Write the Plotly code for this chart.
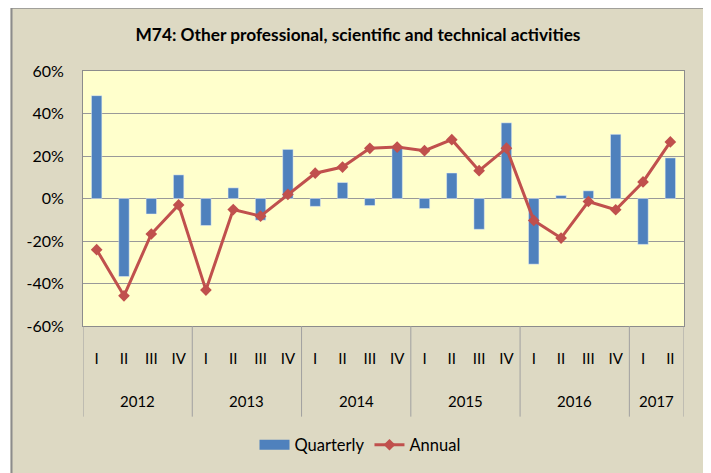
import plotly.graph_objects as go

# ---- data ----
years = ["2012", "2013", "2014", "2015", "2016", "2017"]
quarters_per_year = [4, 4, 4, 4, 4, 2]
quarter_labels = ["I", "II", "III", "IV"] * 5 + ["I", "II"]
quarterly = [48.4, -36.7, -7.3, 11.1, -12.7, 5.0, -10.2, 23.1, -3.7, 7.5, -3.3, 23.7,
             -4.7, 12.0, -14.5, 35.6, -30.9, 1.4, 3.6, 30.2, -21.6, 19.1]
annual = [-24.1, -45.8, -16.7, -3.0, -43.1, -5.2, -8.3, 1.9, 11.9, 14.8, 23.6, 24.2,
          22.5, 27.7, 13.1, 23.7, -10.3, -18.6, -1.4, -5.3, 7.8, 26.6]
y_ticks = [-60, -40, -20, 0, 20, 40, 60]
y_tick_labels = ["-60%", "-40%", "-20%", "0%", "20%", "40%", "60%"]

title = "M74: Other professional, scientific and technical activities"

# ---- geometry (screen pixels; the page body adds an 8px offset) ----
OFF = 8
W, H = 711 - OFF, 473 - OFF
L, R, T, B = 83, 684, 71, 327
pw, ph = R - L, B - T


def px(x):
    return (x - L) / pw


def py(y):
    return (B - y) / ph


FONT = "Lato, Carlito, Calibri, 'Liberation Sans', sans-serif"
BLUE = "#4F81BD"
RED = "#C0504D"
BEIGE = "#DDD9C3"
GRID = "#999999"
FRAME = "#8c8c8c"

xs = list(range(len(quarterly)))

fig = go.Figure()
fig.add_trace(go.Bar(x=xs, y=quarterly, name="Quarterly", marker_color=BLUE,
                     width=0.38, showlegend=False))
# legend proxy for the bar series (wide rectangle like the original)
fig.add_trace(go.Scatter(x=[None], y=[None], mode="lines", name="Quarterly",
                         line=dict(color=BLUE, width=11)))
fig.add_trace(go.Scatter(x=xs, y=annual, name="Annual", mode="lines+markers",
                         line=dict(color=RED, width=3),
                         marker=dict(symbol="diamond", size=9, color=RED)))

shapes = []
annotations = []

# year group dividers and year labels
pos = -0.5
bounds = [pos]
for yr, n in zip(years, quarters_per_year):
    annotations.append(dict(x=pos + n / 2, y=py(402), xref="x", yref="paper",
                            text=yr, showarrow=False, yanchor="middle",
                            font=dict(family=FONT, size=15, color="#000000")))
    pos += n
    bounds.append(pos)
for b in bounds:
    shapes.append(dict(type="line", xref="x", yref="paper", x0=b, x1=b,
                       y0=0, y1=py(418), line=dict(color="#a0a0a0", width=1)))

# outer frame: white margins + grey border
shapes += [
    dict(type="rect", xref="paper", yref="paper", x0=px(-10), x1=px(10.5), y0=-2, y1=3,
         fillcolor="white", line_width=0, layer="above"),
    dict(type="rect", xref="paper", yref="paper", x0=px(705.5), x1=px(730), y0=-2, y1=3,
         fillcolor="white", line_width=0, layer="above"),
    dict(type="rect", xref="paper", yref="paper", x0=px(-10), x1=px(730), y0=py(6.5), y1=py(-10),
         fillcolor="white", line_width=0, layer="above"),
    dict(type="line", xref="paper", yref="paper", x0=px(11.5), x1=px(11.5), y0=py(7.5), y1=py(480),
         line=dict(color=FRAME, width=2), layer="above"),
    dict(type="line", xref="paper", yref="paper", x0=px(704.5), x1=px(704.5), y0=py(7.5), y1=py(480),
         line=dict(color=FRAME, width=2), layer="above"),
    dict(type="line", xref="paper", yref="paper", x0=px(11.5), x1=px(704.5), y0=py(7.5), y1=py(7.5),
         line=dict(color=FRAME, width=2), layer="above"),
]

fig.update_layout(
    width=W, height=H,
    margin=dict(l=L - OFF, r=W - (R - OFF), t=T - OFF, b=H - (B - OFF), pad=0),
    paper_bgcolor=BEIGE,
    plot_bgcolor="#FFFFCC",
    title=dict(text="<b>" + title + "</b>", xref="paper", x=px(358), xanchor="center",
               yref="container", y=1 - (35 - OFF) / H, yanchor="middle",
               font=dict(family=FONT, size=17.3, color="#000000")),
    font=dict(family=FONT, size=14, color="#000000"),
    showlegend=True,
    legend=dict(orientation="h", x=px(360), xanchor="center", y=py(445), yanchor="middle",
                bgcolor="rgba(0,0,0,0)", font=dict(family=FONT, size=16.5, color="#000000"),
                itemwidth=30, traceorder="normal"),
    shapes=shapes,
    annotations=annotations,
    bargap=0.6,
)

fig.update_xaxes(
    range=[-0.5, len(quarterly) - 0.5],
    tickmode="array", tickvals=xs, ticktext=quarter_labels,
    tickfont=dict(family=FONT, size=15, color="#000000"),
    ticks="", ticklabelstandoff=19,
    showgrid=False, zeroline=False,
    showline=True, linecolor=FRAME, linewidth=1, mirror=True,
    fixedrange=True,
)
fig.update_yaxes(
    range=[-60, 60], tickmode="array", tickvals=y_ticks, ticktext=y_tick_labels,
    tickfont=dict(family=FONT, size=16, color="#000000"),
    ticks="", ticklabelstandoff=15,
    showgrid=True, gridcolor=GRID, gridwidth=1, zeroline=False,
    showline=True, linecolor=FRAME, linewidth=1, mirror=True,
    fixedrange=True,
)

fig.write_html("out.html")
